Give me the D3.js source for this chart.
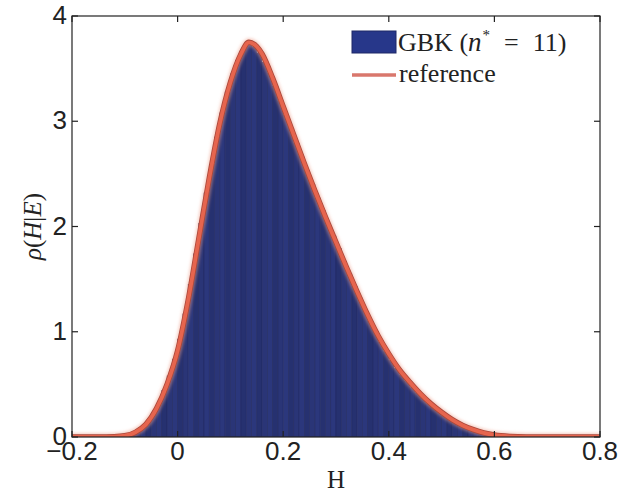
<!DOCTYPE html>
<html>
<head>
<meta charset="utf-8">
<script src="https://cdn.jsdelivr.net/npm/d3@7"></script>
<style>
  body { margin: 0; background: #fff; }
  svg { display: block; }
</style>
</head>
<body>
<svg id="chart" width="623" height="496"></svg>
<script>
// Axis ticks
const xTicks = [-0.2, 0, 0.2, 0.4, 0.6, 0.8];
const yTicks = [0, 1, 2, 3, 4];

// Histogram of the GBK samples: bins of width 0.01 starting at -0.10
const binStart = -0.10;
const binWidth = 0.01;
const gbkDensity = [
  0.01, 0.03, 0.05, 0.09, 0.15, 0.22, 0.32, 0.44, 0.58, 0.74,
  0.93, 1.17, 1.45, 1.74, 2.03, 2.32, 2.59, 2.85, 3.08, 3.28,
  3.45, 3.58, 3.68, 3.73, 3.71, 3.65, 3.56, 3.46, 3.33, 3.19,
  3.06, 2.93, 2.79, 2.66, 2.53, 2.40, 2.27, 2.15, 2.03, 1.91,
  1.79, 1.67, 1.55, 1.43, 1.32, 1.21, 1.10, 1.00, 0.90, 0.81,
  0.73, 0.65, 0.59, 0.53, 0.47, 0.42, 0.37, 0.32, 0.28, 0.24,
  0.20, 0.17, 0.14, 0.11, 0.09, 0.07, 0.05, 0.04, 0.03, 0.02
];

// Reference posterior density
const refH = [-0.20, -0.15, -0.12, -0.10, -0.08, -0.06, -0.04, -0.02, 0.00, 0.02,
              0.04, 0.06, 0.08, 0.10, 0.12, 0.135, 0.15, 0.16, 0.18, 0.20,
              0.22, 0.24, 0.26, 0.28, 0.30, 0.32, 0.34, 0.36, 0.38, 0.40,
              0.42, 0.44, 0.46, 0.48, 0.50, 0.52, 0.54, 0.56, 0.58, 0.60,
              0.63, 0.66, 0.70, 0.80];
const refP = [0, 0, 0.003, 0.012, 0.045, 0.12, 0.27, 0.50, 0.82, 1.30,
              1.88, 2.46, 2.98, 3.37, 3.64, 3.75, 3.71, 3.64, 3.41, 3.14,
              2.87, 2.60, 2.34, 2.09, 1.85, 1.61, 1.38, 1.16, 0.96, 0.79,
              0.64, 0.52, 0.41, 0.315, 0.235, 0.165, 0.11, 0.07, 0.04, 0.02,
              0.006, 0.001, 0, 0];

const legendLabels = ["GBK", "reference"];

const svg = d3.select("#chart");
const plot = { left: 72, right: 600, top: 16, bottom: 437 };

const x = d3.scaleLinear().domain([-0.2, 0.8]).range([plot.left, plot.right]);
const y = d3.scaleLinear().domain([0, 4]).range([plot.bottom, plot.top]);

const defs = svg.append("defs");
defs.append("clipPath").attr("id", "plotClip")
  .append("rect")
  .attr("x", plot.left).attr("y", plot.top - 4)
  .attr("width", plot.right - plot.left).attr("height", plot.bottom - plot.top + 4);

const halo = defs.append("filter").attr("id", "halo")
  .attr("x", "-5%").attr("y", "-5%").attr("width", "110%").attr("height", "110%");
halo.append("feGaussianBlur").attr("stdDeviation", 1.4);

// Bars
const bins = gbkDensity.map((v, i) => ({ x0: binStart + i * binWidth, x1: binStart + (i + 1) * binWidth, v }));
svg.append("g").attr("clip-path", "url(#plotClip)")
  .selectAll("rect").data(bins).join("rect")
  .attr("x", d => x(d.x0))
  .attr("y", d => y(d.v))
  .attr("width", d => x(d.x1) - x(d.x0))
  .attr("height", d => y(0) - y(d.v))
  .attr("fill", (d, i) => i % 3 === 0 ? "#2b377c" : (i % 3 === 1 ? "#263170" : "#2a3577"))
  .attr("stroke", "#222a62")
  .attr("stroke-width", 0.6);

// Reference curve
const pts = refH.map((h, i) => [h, refP[i]]);
const line = d3.line().x(d => x(d[0])).y(d => y(d[1])).curve(d3.curveMonotoneX);
const curveG = svg.append("g").attr("clip-path", "url(#plotClip)")
  .attr("fill", "none").attr("stroke-linejoin", "round");
curveG.append("path").attr("d", line(pts))
  .attr("stroke", "#f0a08c").attr("stroke-width", 8)
  .attr("stroke-opacity", 0.5).attr("filter", "url(#halo)");
curveG.append("path").attr("d", line(pts))
  .attr("stroke", "#a9473a").attr("stroke-width", 5.4);
curveG.append("path").attr("d", line(pts))
  .attr("stroke", "#e6654e").attr("stroke-width", 3.8);

// Frame and ticks
const axisG = svg.append("g").attr("stroke", "#222").attr("stroke-width", 1.2);
axisG.append("rect")
  .attr("x", plot.left).attr("y", plot.top)
  .attr("width", plot.right - plot.left).attr("height", plot.bottom - plot.top)
  .attr("fill", "none");
const tickLen = 6;
xTicks.forEach(t => {
  axisG.append("line").attr("x1", x(t)).attr("x2", x(t)).attr("y1", plot.bottom).attr("y2", plot.bottom - tickLen);
  axisG.append("line").attr("x1", x(t)).attr("x2", x(t)).attr("y1", plot.top).attr("y2", plot.top + tickLen);
});
yTicks.forEach(t => {
  axisG.append("line").attr("x1", plot.left).attr("x2", plot.left + tickLen).attr("y1", y(t)).attr("y2", y(t));
  axisG.append("line").attr("x1", plot.right).attr("x2", plot.right - tickLen).attr("y1", y(t)).attr("y2", y(t));
});

// Tick labels
const tickFont = "'Liberation Sans', Arial, Helvetica, sans-serif";
svg.append("g").selectAll("text").data(xTicks).join("text")
  .attr("x", d => x(d)).attr("y", plot.bottom + 23)
  .attr("text-anchor", "middle")
  .attr("font-family", tickFont).attr("font-size", 26).attr("fill", "#222")
  .text(d => d3.format("")(d).replace("-", "\u2212"));
svg.append("g").selectAll("text").data(yTicks).join("text")
  .attr("x", plot.left - 5).attr("y", d => y(d) + 8)
  .attr("text-anchor", "end")
  .attr("font-family", tickFont).attr("font-size", 26).attr("fill", "#222")
  .text(d => d);

// Axis titles
const serif = "'Liberation Serif', 'Times New Roman', serif";
svg.append("text")
  .attr("x", (plot.left + plot.right) / 2).attr("y", 488)
  .attr("text-anchor", "middle")
  .attr("font-family", serif).attr("font-size", 25).attr("fill", "#222")
  .text("H");

const yl = svg.append("text")
  .attr("transform", `translate(41, ${(plot.top + plot.bottom) / 2}) rotate(-90)`)
  .attr("text-anchor", "middle")
  .attr("font-family", serif).attr("font-size", 25).attr("fill", "#222");
yl.append("tspan").attr("font-style", "italic").text("\u03C1");
yl.append("tspan").text("(");
yl.append("tspan").attr("font-style", "italic").text("H");
yl.append("tspan").text("|");
yl.append("tspan").attr("font-style", "italic").text("E");
yl.append("tspan").text(")");

// Legend
const lg = svg.append("g");
lg.append("rect").attr("x", 352).attr("y", 31).attr("width", 44).attr("height", 22)
  .attr("fill", "#27378a").attr("stroke", "#1f2966").attr("stroke-width", 1);
const t1 = lg.append("text").attr("x", 398).attr("y", 51)
  .attr("font-family", serif).attr("font-size", 26).attr("fill", "#222");
t1.append("tspan").text(legendLabels[0] + " (");
t1.append("tspan").attr("font-style", "italic").attr("font-size", 27).text("n");
t1.append("tspan").attr("font-size", 15).attr("dy", -11).attr("dx", 1).text("*");
t1.append("tspan").attr("dy", 11).attr("dx", 14).text("=");
t1.append("tspan").attr("dx", 14).text("11)");

lg.append("line").attr("x1", 352).attr("x2", 396).attr("y1", 75).attr("y2", 75)
  .attr("stroke", "#d9776c").attr("stroke-width", 3.5);
lg.append("text").attr("x", 399).attr("y", 82)
  .attr("font-family", serif).attr("font-size", 26).attr("fill", "#222")
  .text(legendLabels[1]);
</script>
</body>
</html>
